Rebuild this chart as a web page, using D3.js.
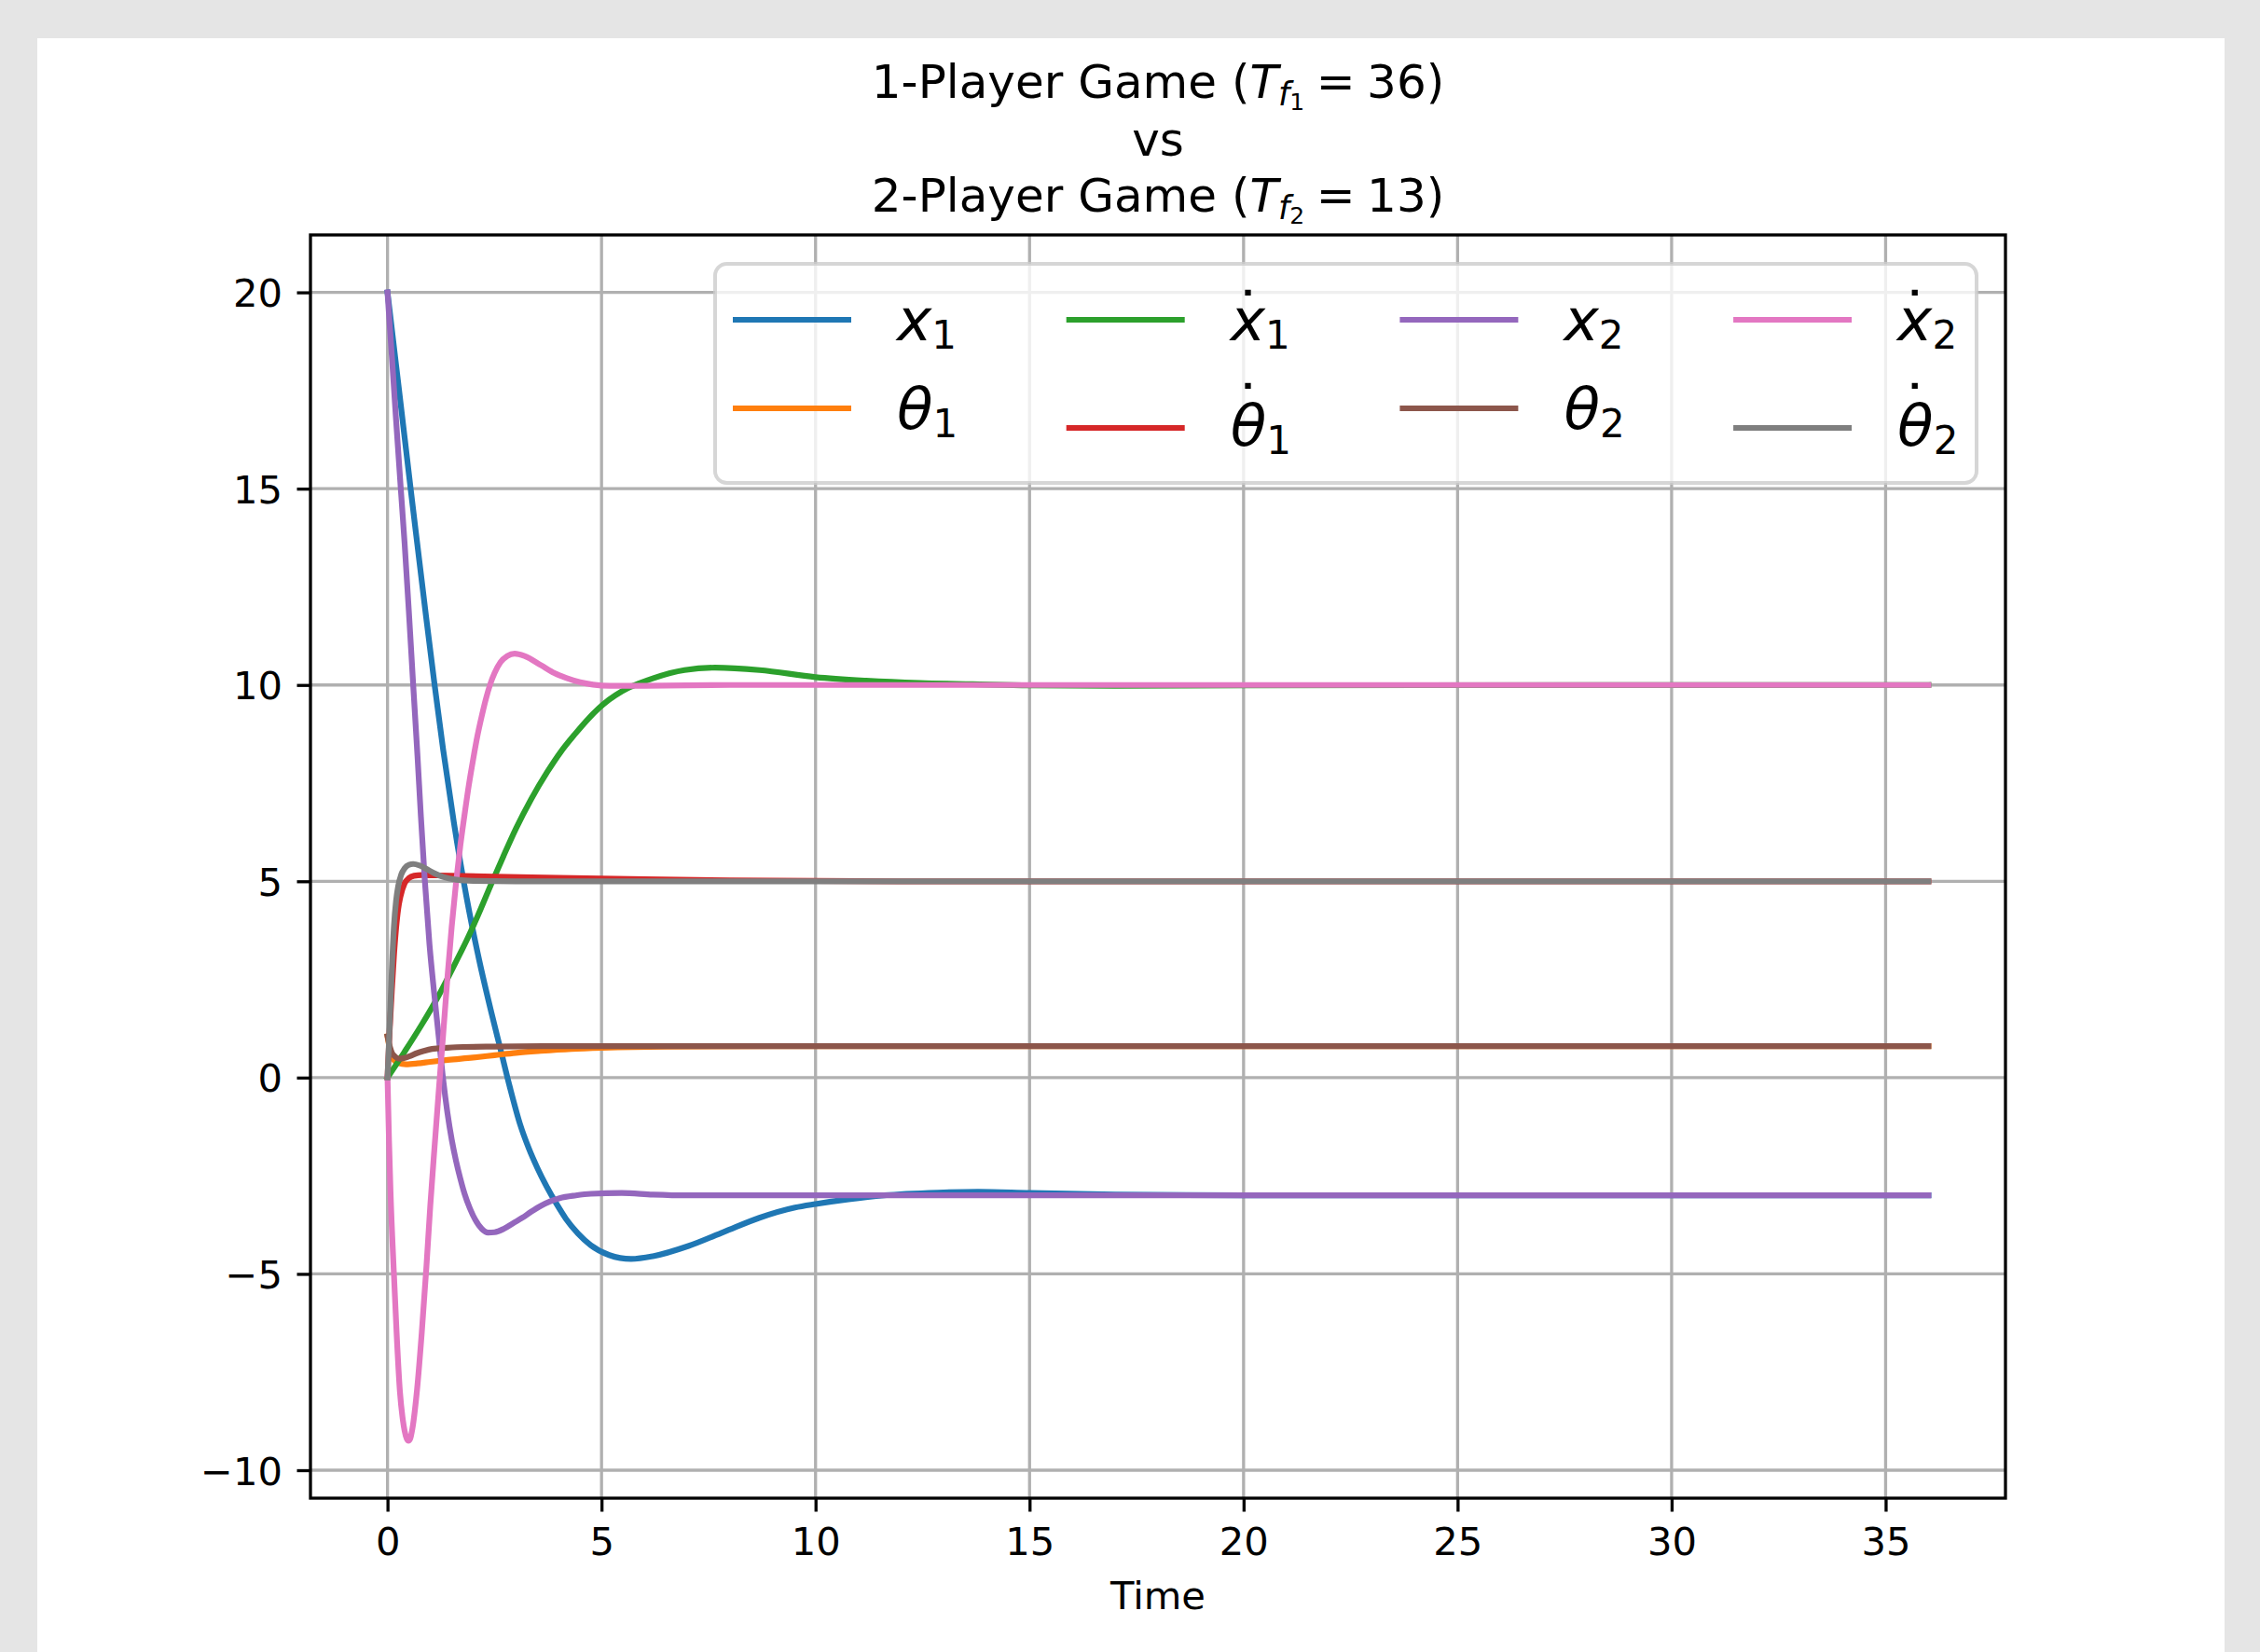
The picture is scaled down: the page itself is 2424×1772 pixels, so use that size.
<!DOCTYPE html>
<html>
<head>
<meta charset="utf-8">
<script src="https://cdn.jsdelivr.net/npm/d3@7"></script>
<style>
body { margin: 0; background: #e5e5e5; }
svg { display: block; }
text { font-family: "DejaVu Sans", sans-serif; fill: #000; }
</style>
</head>
<body>
<svg width="2424" height="1772"></svg>
<script>
// tick labels
var timeTicks = [0, 5, 10, 15, 20, 25, 30, 35];
var valueTicks = [-10, -5, 0, 5, 10, 15, 20];

// series, [time, value]
var x1 = [[0,20],[0.2,18.15],[0.4,16.3],[0.54,15],[0.7,13.55],[0.9,11.75],[1.1,10.0],[1.3,8.35],[1.55,6.5],[1.85,4.57],[2.14,3.0],[2.43,1.64],[2.64,0.72],[2.86,-0.25],[3.1,-1.2],[3.3,-1.8],[3.5,-2.3],[3.73,-2.8],[3.95,-3.22],[4.17,-3.6],[4.45,-3.97],[4.75,-4.27],[5.18,-4.52],[5.69,-4.62],[6.2,-4.55],[7.03,-4.29],[7.86,-3.93],[8.69,-3.57],[9.52,-3.31],[10.0,-3.22],[10.77,-3.1],[11.6,-3.0],[12.85,-2.93],[13.8,-2.91],[15,-2.94],[17,-2.98],[20,-3.0],[36,-3.0]];
var theta1 = [[0,1.05],[0.05,0.75],[0.1,0.55],[0.15,0.45],[0.25,0.37],[0.43,0.34],[0.7,0.36],[1.0,0.4],[1.41,0.45],[2.0,0.51],[2.5,0.57],[3.0,0.63],[3.58,0.68],[4.3,0.73],[5.03,0.76],[6.5,0.79],[9,0.8],[36,0.8]];
var xdot1 = [[0,0],[0.4,0.66],[0.8,1.35],[1.2,2.1],[1.6,2.95],[1.85,3.5],[2.1,4.1],[2.43,4.95],[2.7,5.62],[3.0,6.34],[3.35,7.08],[3.73,7.78],[4.05,8.3],[4.38,8.75],[4.7,9.15],[5.03,9.5],[5.33,9.74],[5.62,9.92],[5.9,10.05],[6.2,10.17],[6.94,10.38],[7.65,10.44],[8.69,10.38],[10,10.2],[11.18,10.11],[12.43,10.05],[13.67,10.02],[15,9.99],[17,9.98],[20,9.99],[36,10]];
var thetadot1 = [[0,0],[0.05,1.2],[0.1,2.2],[0.15,3.1],[0.2,3.8],[0.25,4.3],[0.3,4.6],[0.4,4.95],[0.5,5.08],[0.62,5.14],[0.8,5.16],[1.2,5.15],[2.5,5.12],[4,5.09],[6,5.05],[8,5.02],[12,5.0],[36,5.0]];
var x2 = [[0,20],[0.1,18.4],[0.2,16.75],[0.31,15],[0.4,13.6],[0.5,11.85],[0.6,10.0],[0.7,8.2],[0.78,6.65],[0.87,5.05],[0.98,3.4],[1.09,2.15],[1.2,1.0],[1.3,-0.05],[1.4,-0.9],[1.5,-1.58],[1.6,-2.12],[1.7,-2.57],[1.8,-2.96],[1.92,-3.32],[2.05,-3.62],[2.2,-3.85],[2.35,-3.95],[2.5,-3.94],[2.72,-3.85],[2.95,-3.7],[3.15,-3.57],[3.35,-3.42],[3.59,-3.26],[3.8,-3.15],[4.02,-3.07],[4.4,-3.0],[4.75,-2.96],[5.47,-2.94],[6.2,-2.98],[7,-3.0],[36,-3.0]];
var theta2 = [[0,1.05],[0.05,0.8],[0.1,0.64],[0.17,0.54],[0.28,0.48],[0.4,0.5],[0.55,0.56],[0.68,0.62],[0.85,0.68],[1.04,0.73],[1.4,0.76],[1.77,0.78],[2.5,0.79],[4,0.8],[36,0.8]];
var xdot2 = [[0,0],[0.035,-1.6],[0.07,-2.9],[0.145,-4.9],[0.21,-6.45],[0.29,-8.0],[0.35,-8.65],[0.4,-9.0],[0.45,-9.2],[0.49,-9.25],[0.53,-9.2],[0.58,-8.95],[0.69,-7.95],[0.8,-6.5],[0.91,-4.8],[1.0,-3.25],[1.1,-1.75],[1.2,-0.3],[1.3,1.1],[1.4,2.55],[1.5,3.85],[1.6,4.95],[1.7,5.9],[1.8,6.7],[1.9,7.45],[2.0,8.1],[2.1,8.7],[2.2,9.2],[2.3,9.65],[2.4,10.02],[2.5,10.3],[2.64,10.58],[2.8,10.74],[2.97,10.8],[3.2,10.74],[3.59,10.5],[3.9,10.3],[4.17,10.18],[4.5,10.07],[4.8,10.01],[5.2,9.98],[6,9.98],[8,10],[36,10]];
var thetadot2 = [[0,0],[0.05,1.3],[0.1,2.7],[0.15,3.85],[0.2,4.5],[0.25,4.88],[0.32,5.17],[0.4,5.33],[0.5,5.42],[0.6,5.44],[0.75,5.4],[0.9,5.32],[1.1,5.2],[1.3,5.11],[1.6,5.04],[2.0,5.01],[3,5.0],[36,5.0]];

var series = [x1, theta1, xdot1, thetadot1, x2, theta2, xdot2, thetadot2];
var legendSymbols = ["x", "θ", "x", "θ", "x", "θ", "x", "θ"];
var legendSubs = ["1", "1", "1", "1", "2", "2", "2", "2"];
var legendDots = [false, false, true, true, false, false, true, true];

var svg = d3.select("svg");

// figure background (matplotlib figure, cut at the bottom)
svg.append("rect")
.attr("x", 40)
.attr("y", 41)
.attr("width", 2346)
.attr("height", 1760)
.attr("fill", "#fff");

var axLeft = 333, axRight = 2151, axTop = 252, axBottom = 1607;

var allPoints = d3.merge(series);
var tExt = d3.extent(allPoints, d => d[0]);
var vExt = d3.extent(allPoints, d => d[1]);
var tPad = (tExt[1] - tExt[0]) * 0.05;
var vPad = (vExt[1] - vExt[0]) * 0.05;

var xScale = d3.scaleLinear().domain([tExt[0] - tPad, tExt[1] + tPad]).range([axLeft, axRight]);
var yScale = d3.scaleLinear().domain([vExt[0] - vPad, vExt[1] + vPad]).range([axBottom, axTop]);
var color = d3.scaleOrdinal(d3.schemeCategory10).domain(d3.range(series.length));

// grid
var grid = svg.append("g");
grid.selectAll(".vgrid")
.data(timeTicks)
.enter()
.append("line")
.attr("x1", d => xScale(d))
.attr("x2", d => xScale(d))
.attr("y1", axTop)
.attr("y2", axBottom)
.attr("stroke", "#b0b0b0")
.attr("stroke-width", 3.3);

grid.selectAll(".hgrid")
.data(valueTicks)
.enter()
.append("line")
.attr("x1", axLeft)
.attr("x2", axRight)
.attr("y1", d => yScale(d))
.attr("y2", d => yScale(d))
.attr("stroke", "#b0b0b0")
.attr("stroke-width", 3.3);

// lines
var line = d3.line()
.x(d => xScale(d[0]))
.y(d => yScale(d[1]))
.curve(d3.curveMonotoneX);

svg.append("g")
.selectAll("path")
.data(series)
.enter()
.append("path")
.attr("d", line)
.attr("fill", "none")
.attr("stroke", (d, i) => color(i))
.attr("stroke-width", 6.2)
.attr("stroke-linejoin", "round")
.attr("stroke-linecap", "square");

// axes
var xAxis = svg.append("g")
.attr("transform", "translate(0," + axBottom + ")")
.call(d3.axisBottom(xScale).tickValues(timeTicks).tickSize(14.5).tickSizeOuter(0).tickPadding(17));

var yAxis = svg.append("g")
.attr("transform", "translate(" + axLeft + ",0)")
.call(d3.axisLeft(yScale).tickValues(valueTicks).tickSize(14.5).tickSizeOuter(0).tickPadding(15.5));

[xAxis, yAxis].forEach(function(ax) {
  ax.select(".domain").remove();
  ax.selectAll(".tick line").attr("stroke", "#000").attr("stroke-width", 3.3);
  ax.selectAll(".tick text")
  .attr("font-family", "DejaVu Sans")
  .attr("font-size", 41.67)
  .attr("fill", "#000");
});
yAxis.selectAll(".tick text").attr("dy", "0.36em");

// spines
svg.append("rect")
.attr("x", axLeft)
.attr("y", axTop)
.attr("width", axRight - axLeft)
.attr("height", axBottom - axTop)
.attr("fill", "none")
.attr("stroke", "#000")
.attr("stroke-width", 3.3);

// x label
svg.append("text")
.attr("x", (axLeft + axRight) / 2)
.attr("y", 1726)
.attr("text-anchor", "middle")
.attr("font-size", 41.67)
.text("Time");

// title
var cx = (axLeft + axRight) / 2;
function titleLine(y, label, fsub, value) {
  var t = svg.append("text")
  .attr("x", cx)
  .attr("y", y)
  .attr("text-anchor", "middle")
  .attr("font-size", 50);
  t.append("tspan").text(label + " (");
  t.append("tspan").attr("font-style", "italic").text("T");
  t.append("tspan").attr("font-style", "italic").attr("font-size", 35).attr("dy", 8).text("f");
  t.append("tspan").attr("font-size", 25).attr("dy", 5).text(fsub);
  t.append("tspan").attr("dy", -13).text("\u2005=\u2005" + value + ")");
}
titleLine(105, "1-Player Game", "1", "36");
svg.append("text")
.attr("x", cx)
.attr("y", 167)
.attr("text-anchor", "middle")
.attr("font-size", 50)
.text("vs");
titleLine(227, "2-Player Game", "2", "13");

// legend
var legX = 767, legY = 283, legW = 1353, legH = 235;
var legend = svg.append("g");
legend.append("rect")
.attr("x", legX)
.attr("y", legY)
.attr("width", legW)
.attr("height", legH)
.attr("rx", 12.6)
.attr("fill", "#fff")
.attr("fill-opacity", 0.8)
.attr("stroke", "#cccccc")
.attr("stroke-opacity", 0.8)
.attr("stroke-width", 4);

var entries = legend.selectAll(".entry")
.data(series)
.enter()
.append("g")
.attr("class", "entry")
.attr("transform", (d, i) => "translate(" + (legX + 19 + Math.floor(i / 2) * 357.7) + "," + legY + ")");

entries.append("line")
.attr("x1", 0)
.attr("x2", 127)
.attr("y1", (d, i) => i % 2 == 0 ? 60 : (legendDots[i] ? 176 : 155))
.attr("y2", (d, i) => i % 2 == 0 ? 60 : (legendDots[i] ? 176 : 155))
.attr("stroke", (d, i) => color(i))
.attr("stroke-width", 6.2);

var labels = entries.append("text")
.attr("x", 176)
.attr("y", (d, i) => i % 2 == 0 ? 82 : (legendDots[i] ? 195 : 177))
.attr("font-size", 63);
labels.append("tspan")
.attr("font-style", "italic")
.text((d, i) => legendSymbols[i]);
labels.append("tspan")
.attr("font-size", 42)
.attr("dy", 9)
.text((d, i) => legendSubs[i]);

// dot accent over the derivative symbols, kept inside the same label
labels.filter((d, i) => legendDots[i])
.append("tspan")
.attr("x", 179)
.attr("y", (d, i, nodes) => series.indexOf(d) % 2 == 0 ? 75 : 175)
.text("˙");
</script>
</body>
</html>
